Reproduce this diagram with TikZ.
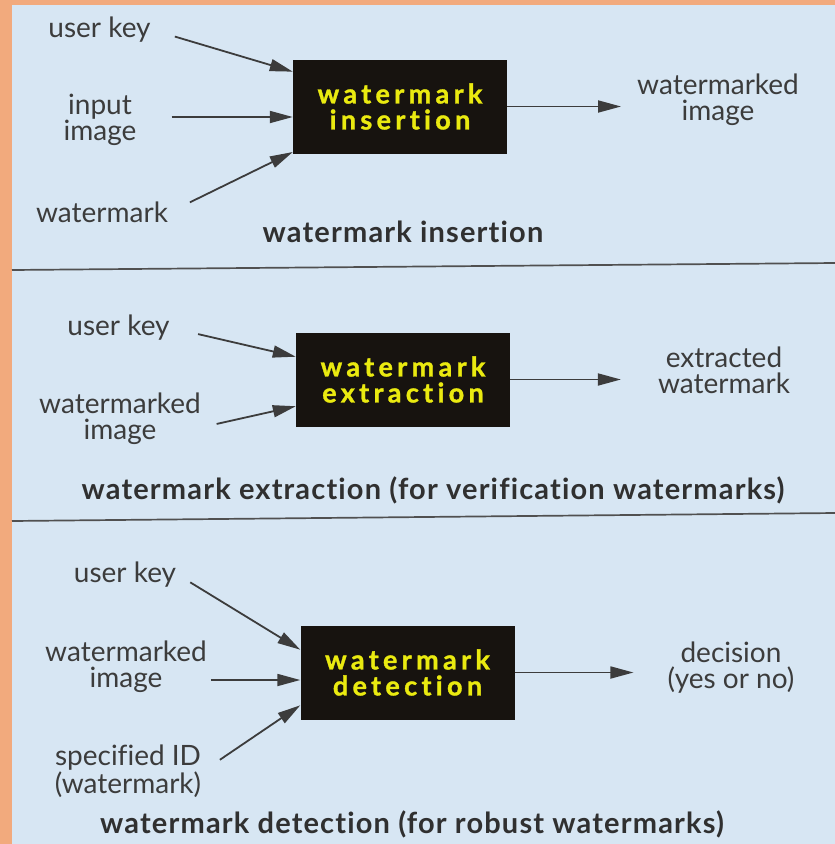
\documentclass[tikz,border=0pt]{standalone}
\usepackage{fontspec}
\setmainfont[Ligatures=NoCommon]{Lato}
\newfontfamily\stagefont[LetterSpace=16, Ligatures=NoCommon, BoldFeatures={FakeBold=1.2}]{Lato}
\newfontfamily\legendfont[LetterSpace=4, Ligatures=NoCommon]{Lato}
\usetikzlibrary{arrows.meta}
\definecolor{frameorange}{HTML}{F2AA7D}
\definecolor{paperblue}{HTML}{D7E6F3}
\definecolor{ink}{HTML}{3C3C3C}
\definecolor{stageyellow}{HTML}{EAEA10}
\definecolor{stageblack}{HTML}{17130F}
\begin{document}
\begin{tikzpicture}[x=1pt, y=-1pt,
  lbl/.style={text=ink, align=center, inner sep=2pt, font=\fontsize{28}{26}\selectfont},
  legend/.style={text=ink!80!black, inner sep=2pt, font=\legendfont\bfseries\fontsize{29}{30}\selectfont},
  stage/.style={fill=stageblack, text=stageyellow, align=center, inner sep=0pt,
    minimum width=214pt, minimum height=94pt, font=\stagefont\bfseries\fontsize{27}{26}\selectfont},
  feed/.style={draw=ink, line width=1.8pt, -{Triangle[length=23pt, width=12pt]}}]
\useasboundingbox (0,0) rectangle (835,844);
\fill[frameorange] (0,0) rectangle (835,844);
\fill[paperblue] (12,5) rectangle (835,844);
\draw[ink!90, line width=1.7pt] (12,270) -- (835,263);
\draw[ink!90, line width=1.7pt] (12,521) -- (835,513);
% insertion
\node[stage] (ins) at (400,106.5) {watermark\\insertion};
\node[lbl] (uk1) at (99.5,30) {user key};
\node[lbl] (in1) at (100,120) {input\\image};
\node[lbl] (wm1) at (102,212) {watermark};
\node[lbl] (out1) at (718,100) {watermarked\\image};
\node[legend] (cap1) at (403,232) {watermark insertion};
\draw[feed, shorten <=23pt] (uk1.east) -- (ins.162);
\draw[feed, shorten <=33pt] ([yshift=3pt]in1.east) -- ([yshift=3pt]in1.east -| ins.west);
\draw[feed, shorten <=22pt] (wm1.east) -- (ins.203);
\draw[feed, shorten >=14pt] (ins.east) -- (ins.east -| out1.west);
% extraction
\node[stage] (ext) at (403,379.5) {watermark\\extraction};
\node[lbl] (uk2) at (118.5,328) {user key};
\node[lbl] (wmd2) at (120,419) {watermarked\\image};
\node[lbl] (out2) at (724,370) {extracted\\watermark};
\node[legend] (cap2) at (433,490) {watermark extraction (for verification watermarks)};
\draw[feed, shorten <=27pt] (uk2.east) -- (ext.168);
\draw[feed, shorten <=14pt] ([yshift=-8pt]wmd2.east) -- (ext.194);
\draw[feed, shorten >=35pt] (ext.east) -- (ext.east -| out2.west);
% detection
\node[stage] (det) at (407.5,672.5) {watermark\\detection};
\node[lbl] (uk3) at (125,575) {user key};
\node[lbl] (wmd3) at (126,667) {watermarked\\image};
\node[lbl] (sid3) at (128,771) {specified ID\\(watermark)};
\node[lbl] (out3) at (731,668) {decision\\(yes or no)};
\node[legend] (cap3) at (412,824) {watermark detection (for robust watermarks)};
\draw[feed, shorten <=14pt] (uk3.east) -- (det.168);
\draw[feed, shorten <=2pt] ([yshift=-13pt]wmd3.east) -- ([yshift=-13pt]wmd3.east -| det.west);
\draw[feed, shorten <=20pt] (sid3.east) -- (det.197);
\draw[feed, shorten >=32pt] (det.east) -- (det.east -| out3.west);
\end{tikzpicture}
\end{document}
